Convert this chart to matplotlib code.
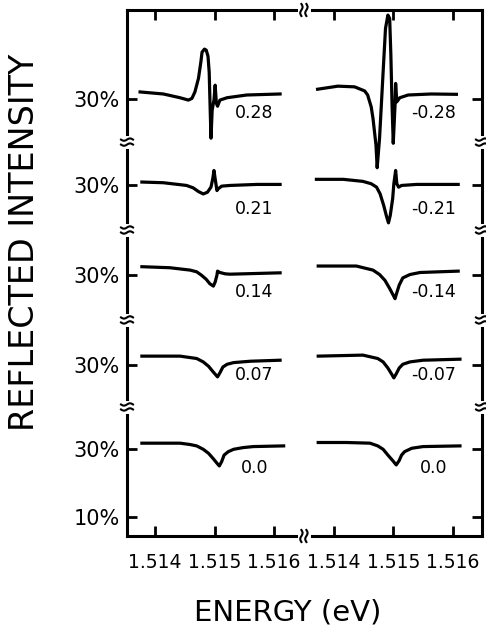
import matplotlib.pyplot as plt
import numpy as np

# strain labels of the spectra, top row first
left_labels = ['0.28', '0.21', '0.14', '0.07', '0.0']
right_labels = ['-0.28', '-0.21', '-0.14', '-0.07', '0.0']

# energy (eV) / reflected intensity (%)
# left column
e_l1 = [1.51375, 1.51414, 1.51442, 1.51456, 1.51462, 1.51467, 1.51473, 1.51477, 1.51479, 1.51483, 1.51486, 1.51489,
        1.51491, 1.51492, 1.51494, 1.51496, 1.51499, 1.51501, 1.51503, 1.51505, 1.51509, 1.51521, 1.51554, 1.51610]
r_l1 = [32.1, 31.5, 30.4, 29.7, 30.2, 32.1, 36.1, 40.9, 43.8, 44.7, 44.4, 42.6,
        37.9, 31.2, 18.5, 26.8, 29.7, 34.1, 28.8, 27.9, 29.7, 30.4, 31.2, 31.5]
e_l2 = [1.51378, 1.51414, 1.51453, 1.51464, 1.51473, 1.51481, 1.51488, 1.51494, 1.51497, 1.51499, 1.51501,
        1.51504, 1.51506, 1.51512, 1.51526, 1.51571, 1.51610]
r_l2 = [30.9, 30.7, 29.9, 29.2, 28.1, 27.4, 27.9, 29.4, 31.9, 34.3, 31.9,
        28.4, 28.9, 29.7, 29.9, 30.2, 30.2]
e_l3 = [1.51378, 1.51425, 1.51459, 1.51470, 1.51478, 1.51486, 1.51492, 1.51498, 1.51501, 1.51504, 1.51505,
        1.51509, 1.51518, 1.51526, 1.51610]
r_l3 = [32.4, 32.1, 31.4, 30.9, 29.9, 28.7, 27.4, 26.7, 27.9, 29.9, 31.1,
        30.7, 30.3, 30.2, 30.6]
e_l4 = [1.51378, 1.51442, 1.51470, 1.51481, 1.51490, 1.51498, 1.51505, 1.51509, 1.51514, 1.51521, 1.51532, 1.51560, 1.51610]
r_l4 = [32.6, 32.6, 31.9, 30.9, 29.6, 27.9, 26.5, 27.7, 29.4, 30.2, 30.7, 31.1, 31.4]
e_l5 = [1.51378, 1.51414, 1.51442, 1.51459, 1.51470, 1.51481, 1.51490, 1.51498, 1.51505, 1.51508, 1.51512,
        1.51516, 1.51523, 1.51532, 1.51548, 1.51565, 1.51616]
r_l5 = [31.7, 31.7, 31.7, 31.3, 30.9, 29.9, 28.7, 27.1, 25.6, 25.0, 26.3,
        28.2, 29.2, 29.9, 30.4, 30.7, 30.9]
# right column
e_r1 = [1.51373, 1.51407, 1.51435, 1.51452, 1.51457, 1.51463, 1.51466, 1.51471, 1.51473, 1.51477, 1.51483, 1.51487,
        1.51491, 1.51494, 1.51496, 1.51498, 1.51500, 1.51503, 1.51504, 1.51506, 1.51511, 1.51525, 1.51564, 1.51606]
r_r1 = [32.9, 33.8, 33.6, 32.4, 31.2, 27.7, 24.3, 16.5, 9.8, 18.5, 38.0, 50.8,
        54.7, 53.7, 42.9, 28.2, 17.0, 28.2, 34.6, 29.2, 30.4, 31.2, 31.5, 31.4]
e_r2 = [1.51371, 1.51416, 1.51449, 1.51463, 1.51472, 1.51478, 1.51484, 1.51489, 1.51492, 1.51495, 1.51499,
        1.51501, 1.51504, 1.51506, 1.51509, 1.51514, 1.51539, 1.51609]
r_r2 = [31.7, 31.7, 31.1, 30.4, 29.4, 27.4, 24.0, 20.6, 18.9, 21.1, 26.0,
        30.4, 34.3, 30.4, 29.4, 29.9, 30.2, 30.2]
e_r3 = [1.51374, 1.51438, 1.51466, 1.51477, 1.51486, 1.51494, 1.51500, 1.51503, 1.51505, 1.51510, 1.51516,
        1.51528, 1.51545, 1.51609]
r_r3 = [32.6, 32.6, 31.4, 30.1, 28.4, 26.0, 24.0, 23.0, 24.2, 27.0, 29.1,
        30.1, 30.7, 31.1]
e_r4 = [1.51374, 1.51449, 1.51474, 1.51483, 1.51491, 1.51497, 1.51501, 1.51505, 1.51510, 1.51516, 1.51528, 1.51550, 1.51612]
r_r4 = [32.6, 32.9, 31.9, 30.9, 29.1, 27.4, 26.2, 27.4, 29.1, 30.2, 30.9, 31.4, 31.7]
e_r5 = [1.51374, 1.51421, 1.51461, 1.51474, 1.51483, 1.51491, 1.51499, 1.51505, 1.51510, 1.51514, 1.51519,
        1.51531, 1.51550, 1.51612]
r_r5 = [31.9, 31.9, 31.7, 30.9, 29.9, 28.2, 26.6, 25.3, 26.6, 28.2, 29.2,
        30.2, 30.7, 30.9]

left = [(e_l1, r_l1), (e_l2, r_l2), (e_l3, r_l3), (e_l4, r_l4), (e_l5, r_l5)]
right = [(e_r1, r_r1), (e_r2, r_r2), (e_r3, r_r3), (e_r4, r_r4), (e_r5, r_r5)]

# layout: rows stacked with a broken intensity axis, right column shifted in energy
offsets = [102.9, 77.6, 51.2, 24.7, 0.0]
shift = 0.003
lab_x, lab_y = 1.51567, [25.9, 22.9, 25.0, 27.1, 24.4]

plt.rcParams['font.family'] = ['DejaVu Sans']
fig = plt.figure(figsize=(4.86, 6.3), dpi=100)
ax = fig.add_axes([127/486, 94/630, 355/486, 526/630])
ax.set_xlim(1.51353, 1.51949)
ax.set_ylim(4.4, 159.1)

for i in range(5):
    e, r = left[i]
    ax.plot(e, np.array(r)+offsets[i], color='black', lw=2.3, solid_joinstyle='round')
    e, r = right[i]
    ax.plot(np.array(e)+shift, np.array(r)+offsets[i], color='black', lw=2.3, solid_joinstyle='round')
    ax.text(lab_x, lab_y[i]+offsets[i], left_labels[i], ha='center', va='center', fontsize=12.5)
    ax.text(lab_x+shift, lab_y[i]+offsets[i], right_labels[i], ha='center', va='center', fontsize=12.5)

xt = [1.514, 1.515, 1.516]
ax.set_xticks(xt+[x+shift for x in xt])
ax.set_xticklabels([str(x) for x in xt]*2)
yt = [10]+[30+o for o in offsets[::-1]]
ax.set_yticks(yt)
ax.set_yticklabels(['10%']+['30%']*5)
ax.tick_params(direction='in', length=7, width=2, top=True, right=True)
ax.tick_params(axis='x', pad=12, labelsize=13.5)
ax.tick_params(axis='y', pad=5, labelsize=15)
for s in ax.spines.values():
    s.set_linewidth(2.2)

# break marks
W, H = 355.0, 526.0
y0, y1 = ax.get_ylim()
t = np.linspace(-1, 1, 11)
for k in range(4):
    yb = ((30+offsets[k]+30+offsets[k+1])/2-y0)/(y1-y0)
    for xa in (0, 1):
        ax.plot([xa, xa], [yb-3/H, yb+3/H], color='white', lw=5, transform=ax.transAxes, clip_on=False, zorder=5)
        for d in (-2.5, 2.5):
            ax.plot(xa+t*6/W, yb+(d+1.2*np.sin(np.pi*t))/H, color='black', lw=1.5,
                    transform=ax.transAxes, clip_on=False, zorder=6)
xb = (1.5165-1.51353)/(1.51949-1.51353)
for ya in (0, 1):
    ax.plot([xb-3/W, xb+3/W], [ya, ya], color='white', lw=5, transform=ax.transAxes, clip_on=False, zorder=5)
    for d in (-2.5, 2.5):
        ax.plot(xb+(d+1.2*np.sin(np.pi*t))/W, ya+t*6/H, color='black', lw=1.5,
                transform=ax.transAxes, clip_on=False, zorder=6)

fig.text(288/486, 1-613/630, 'ENERGY (eV)', ha='center', va='center', fontsize=21)
fig.text(25/486, 1-242/630, 'REFLECTED INTENSITY', ha='center', va='center', rotation=90, fontsize=24)
fig.savefig('out.png', dpi=100)
